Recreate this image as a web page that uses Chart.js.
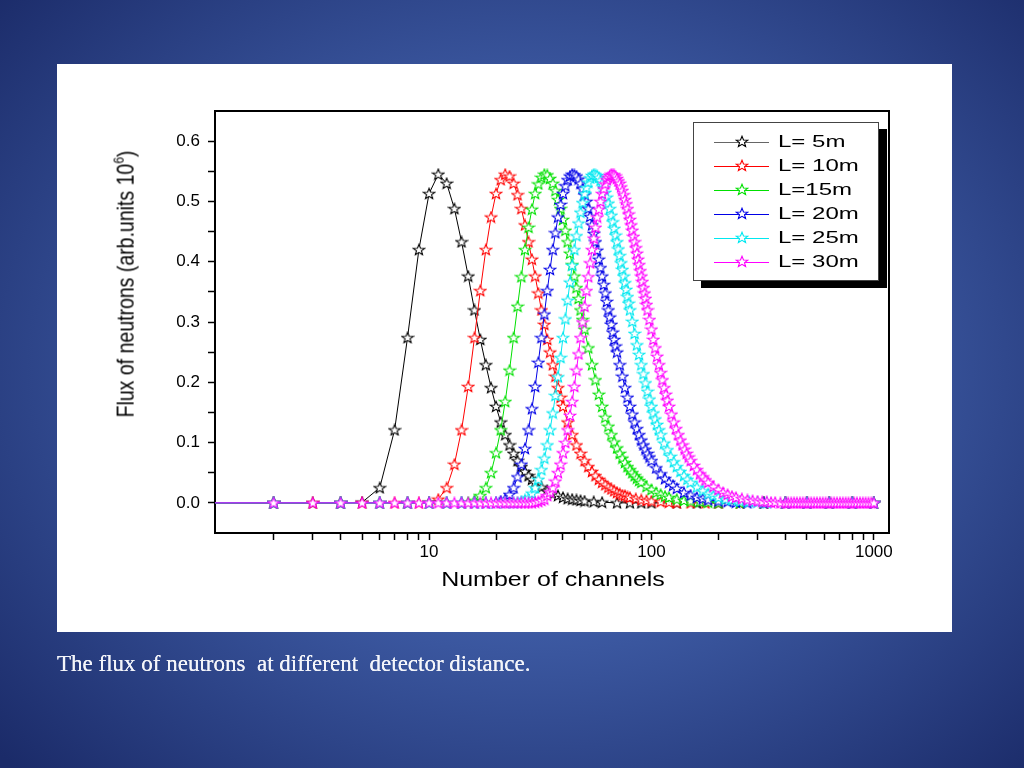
<!DOCTYPE html>
<html>
<head>
<meta charset="utf-8">
<script src="https://cdn.jsdelivr.net/npm/chart.js@4.4.1/dist/chart.umd.min.js"></script>
<style>
  html, body { margin: 0; padding: 0; }
  body {
    width: 1024px; height: 768px; overflow: hidden; position: relative;
    background: radial-gradient(ellipse 70% 75% at 52% 48%, #4f6eb5 0%, #3d5aa3 45%, #1b2b69 100%);
    font-family: "Liberation Sans", Arial, sans-serif;
  }
  #panel { position: absolute; left: 57px; top: 64px; width: 895px; height: 568px; background: #fff; }
  #chart { position: absolute; left: 0; top: 0; }
  #ytitle {
    position: absolute; left: 125px; top: 284px; white-space: nowrap;
    font-size: 19.5px; line-height: 20px; color: #000;
    transform: translate(-50%, -50%) rotate(-90deg) scaleY(1.2);
  }
  #ytitle sup { font-size: 12px; vertical-align: 8px; line-height: 0; }
  #xtitle {
    position: absolute; left: 553px; top: 569px; white-space: nowrap;
    font-size: 20px; line-height: 20px; color: #000;
    transform: translateX(-50%) scaleX(1.25);
  }
  #legend {
    position: absolute; left: 693px; top: 122px; width: 184px; height: 157px;
    background: #fff; border: 1.5px solid #444; box-shadow: 8px 7px 0 #000;
  }
  .row { position: absolute; left: 0; width: 100%; height: 24px; }
  .ln { position: absolute; left: 20px; width: 55px; top: 12px; height: 0; border-top: 1px solid; }
  .row img { position: absolute; left: 41px; top: 5px; }
  .lt {
    position: absolute; left: 84px; top: 0; line-height: 24px; font-size: 16px; color: #000;
    white-space: pre; transform: scaleX(1.5); transform-origin: left center;
  }
  #caption {
    position: absolute; left: 57px; top: 652px; white-space: pre;
    font-family: "Liberation Serif", "DejaVu Serif", serif; font-size: 23px; line-height: 23px;
    color: #f4f5fa; text-shadow: 0 0 0.6px #fff;
  }
</style>
</head>
<body>
<div id="panel"></div>
<canvas id="chart" width="1024" height="768"></canvas>
<div id="ytitle">Flux of neutrons (arb.units 10<sup>6</sup>)</div>
<div id="xtitle">Number of channels</div>
<div id="legend"></div>
<div id="caption">The flux of neutrons  at different  detector distance.</div>
<script>
// ---- data ----
var seriesLabels = ['L= 5m', 'L= 10m', 'L=15m', 'L= 20m', 'L= 25m', 'L= 30m'];
var seriesColors = ['#000000', '#ff0000', '#00e000', '#0000e6', '#00e8f0', '#ff00ff'];

var ch5 = [1,2,3,4,5,6,7,8,9,10,11,12,13,14,15,16,17,18,19,20,21,22,23,24,25,26,27,28,29,30,
  32,34,36,38,40,42,44,46,48,50,55,60,70,80,90,100,130,160,200,250,320,400,500,630,800,1000];
var flux5 = [0,0,0,0,0.001,0.025,0.121,0.274,0.42,0.513,0.545,0.53,0.488,0.433,0.376,0.32,0.271,0.229,0.191,0.16,
  0.134,0.113,0.096,0.082,0.07,0.06,0.052,0.045,0.039,0.034,
  0.026,0.02,0.015,0.012,0.009,0.007,0.006,0.005,0.004,0.003,0.002,0.001,0,0,0,0,0,0,0,0,0,0,0,0,0,0];

var ch10 = [1,2,3,4,5,6,7,8,9,10,11,12,13,14,15,16,17,18,19,20,21,22,23,24,25,26,27,28,29,30,
  31,32,33,34,35,36,37,38,39,40,42,44,46,48,50,52,54,56,58,60,62,64,66,68,70,72,74,76,78,80,
  85,90,95,100,110,120,130,150,175,200,250,320,400,500,630,800,1000];
var flux10 = [0,0,0,0,0,0,0,0,0,0.001,
  0.006,0.025,0.064,0.121,0.193,0.274,0.352,0.42,0.474,0.513,
  0.536,0.545,0.542,0.53,0.511,0.488,0.461,0.433,0.404,0.376,
  0.348,0.32,0.296,0.271,0.25,0.229,0.21,0.191,0.175,0.16,
  0.134,0.113,0.096,0.082,0.07,0.06,0.052,0.045,0.039,0.034,
  0.03,0.026,0.023,0.02,0.017,0.015,0.013,0.012,0.01,0.009,
  0.007,0.005,0.004,0.003,0.002,0.001,0,0,0,0,0,0,0,0,0,0,0];

var ch15 = [1,2,4,6,8,10,12,14,15,16,17,18,19,20,21,22,23,24,25,26,27,28,29,30,31,32,33,34,35,36,
  37,38,39,40,41,42,43,44,45,46,47,48,49,50,52,54,56,58,60,62,64,66,68,70,72,74,76,78,80,82,84,86,88,90,
  95,100,105,110,115,120,130,140,150,165,180,200,250,320,400,500,630,800,1000];
var flux15 = [0,0,0,0,0,0,0,0,
  0.001,0.004,0.012,0.025,0.05,0.083,0.121,0.168,0.22,0.274,0.326,0.375,0.42,0.457,0.487,0.513,0.529,0.54,
  0.545,0.544,0.538,0.53,0.518,0.503,0.488,0.47,0.452,0.433,0.414,0.395,0.376,0.357,0.339,0.32,0.304,0.288,
  0.257,0.229,0.204,0.18,0.16,0.142,0.127,0.113,0.101,0.091,0.082,0.074,0.067,0.06,0.055,0.05,0.045,0.041,0.037,0.034,
  0.027,0.022,0.017,0.014,0.011,0.009,0.006,0.004,0.003,0.002,0.001,0,0,0,0,0,0,0,0];

var ch20 = [1,2,4,6,8,10,12,14,16,18,20,
  21,22,23,24,25,26,27,28,29,30,31,32,33,34,35,36,37,38,39,40,41,42,43,44,45,46,47,48,49,50,
  51,52,53,54,55,56,57,58,59,60,61,62,63,64,65,66,67,68,69,70,
  72,74,76,78,80,82,84,86,88,90,92,94,96,98,100,
  105,110,115,120,125,130,140,150,160,170,180,200,220,240,270,320,400,500,630,800,1000];
var flux20 = [0,0,0,0,0,0,0,0,0,0,0.001,
  0.003,0.006,0.014,0.025,0.043,0.064,0.09,0.121,0.156,0.193,
  0.233,0.274,0.313,0.352,0.387,0.42,0.448,0.474,0.495,0.513,
  0.526,0.536,0.542,0.545,0.544,0.542,0.537,0.53,0.521,0.511,
  0.5,0.488,0.475,0.461,0.447,0.433,0.419,0.404,0.39,0.376,
  0.362,0.348,0.334,0.32,0.308,0.296,0.283,0.271,0.26,0.25,
  0.229,0.21,0.191,0.175,0.16,0.147,0.134,0.123,0.113,0.104,0.096,0.089,0.082,0.076,0.07,
  0.058,0.048,0.04,0.034,0.029,0.024,0.017,0.013,0.009,0.007,0.005,0.003,0.002,0.001,0,0,0,0,0,0,0];

var ch25 = [1,2,4,6,8,10,12,14,16,18,20,22,24,
  25,26,27,28,29,30,31,32,33,34,35,36,37,38,39,40,41,42,43,44,45,46,47,48,49,50,51,52,53,54,
  55,56,57,58,59,60,61,62,63,64,65,66,67,68,69,70,71,72,73,74,75,76,77,78,79,80,
  82,84,86,88,90,92,94,96,98,100,102,104,106,108,110,114,118,122,126,130,135,140,145,150,
  160,170,180,190,200,215,230,250,275,300,330,400,500,630,800,1000];
var flux25 = [0,0,0,0,0,0,0,0,0,0,0,0,0,
  0.001,0.003,0.005,0.008,0.016,0.025,0.039,0.055,0.074,0.096,
  0.121,0.149,0.178,0.209,0.241,0.274,0.305,0.336,0.366,0.394,
  0.42,0.443,0.464,0.482,0.498,0.513,0.523,0.532,0.539,0.543,
  0.545,0.544,0.543,0.54,0.535,0.53,0.523,0.515,0.507,0.497,
  0.488,0.477,0.466,0.455,0.444,0.433,0.421,0.41,0.398,0.387,
  0.376,0.365,0.354,0.342,0.331,0.32,
  0.301,0.281,0.262,0.246,0.229,0.214,0.199,0.185,0.172,0.16,0.149,0.139,0.13,0.121,0.113,
  0.099,0.088,0.077,0.068,0.06,0.052,0.045,0.039,0.034,
  0.026,0.02,0.015,0.012,0.009,0.006,0.005,0.003,0.002,0.001,0,0,0,0,0,0];

var ch30 = [1,2,3,4,5,6,7,8,9,10,11,12,13,14,15,16,17,18,19,20,21,22,23,24,25,26,27,28,29,30,
  31,32,33,34,35,36,37,38,39,40,41,42,43,44,45,46,47,48,49,50,51,52,53,54,55,56,57,58,59,60,
  61,62,63,64,65,66,67,68,69,70,71,72,73,74,75,76,77,78,79,80,81,82,83,84,85,86,87,88,89,90,
  91,92,93,94,95,96,98,100,102,104,106,108,110,112,114,116,118,120,
  123,126,129,132,135,138,141,144,147,150,155,160,165,170,175,180,190,200,210,220,230,240,
  255,270,285,300,315,330,345,360,380,400,412,425,438,451,465,479,493,508,523,539,555,572,589,607,
  625,644,663,683,704,725,747,769,792,816,840,866,892,918,946,974,1000];
var flux30 = [0,0,0,0,0,0,0,0,0,0,0,0,0,0,0,0,0,0,0,0,0,0,0,0,0,0,0,0,0,0.001,
  0.002,0.004,0.006,0.012,0.018,0.025,0.036,0.05,0.064,0.083,
  0.1,0.121,0.145,0.168,0.193,0.22,0.247,0.274,0.3,0.326,
  0.352,0.375,0.398,0.42,0.439,0.457,0.474,0.487,0.5,0.513,
  0.521,0.529,0.536,0.54,0.543,0.545,0.544,0.544,0.542,0.538,
  0.534,0.53,0.524,0.518,0.511,0.503,0.496,0.488,0.479,0.47,
  0.461,0.452,0.442,0.433,0.423,0.414,0.404,0.395,0.385,0.376,
  0.367,0.357,0.348,0.339,0.329,0.32,
  0.304,0.288,0.271,0.257,0.243,0.229,0.216,0.204,0.191,0.18,0.17,0.16,
  0.147,0.134,0.123,0.113,0.104,0.096,0.089,0.082,0.076,0.07,
  0.062,0.055,0.048,0.043,0.038,0.034,0.027,0.022,0.017,0.014,0.011,0.009,
  0.007,0.005,0.004,0.003,0.002,0.002,0.001,0.001,0,0,0,0,0,0,0,0,0,0,0,0,0,0,0,0,
  0,0,0,0,0,0,0,0,0,0,0,0,0,0,0,0,0];

var xTickValues = [2,3,4,5,6,7,8,9,10,20,30,40,50,60,70,80,90,100,200,300,400,500,600,700,800,900,1000];
var xLabelValues = [10, 100, 1000];
var yTickValues = [0,0.05,0.1,0.15,0.2,0.25,0.3,0.35,0.4,0.45,0.5,0.55,0.6];

var channels = [ch5, ch10, ch15, ch20, ch25, ch30];
var fluxes = [flux5, flux10, flux15, flux20, flux25, flux30];

// open star marker
function makeStar(color) {
    var c = document.createElement('canvas');
    c.width = 14; c.height = 13;
    var g = c.getContext('2d');
    g.translate(7, 6.9);
    g.scale(1.08, 1);
    g.beginPath();
    for (var i = 0; i < 10; i++) {
        var r = (i % 2 === 0) ? 5.7 : 2.4;
        var a = -Math.PI / 2 + i * Math.PI / 5;
        if (i === 0) g.moveTo(r * Math.cos(a), r * Math.sin(a));
        else g.lineTo(r * Math.cos(a), r * Math.sin(a));
    }
    g.closePath();
    g.fillStyle = '#fff';
    g.fill();
    g.lineWidth = 1;
    g.strokeStyle = color;
    g.stroke();
    return c;
}

var stars = seriesColors.map(makeStar);

var datasets = [];
for (var k = 0; k < seriesLabels.length; k++) {
    var pts = channels[k].map(function (x, i) { return {x: x, y: fluxes[k][i]}; });
    datasets.push({
        label: seriesLabels[k],
        data: pts,
        borderColor: seriesColors[k],
        backgroundColor: seriesColors[k],
        borderWidth: 1,
        pointStyle: stars[k],
        pointRadius: 6,
        pointHoverRadius: 6,
        fill: false,
        tension: 0,
        order: seriesLabels.length - k
    });
}

// legend box
var legend = document.getElementById('legend');
seriesLabels.forEach(function (lab, i) {
    var row = document.createElement('div');
    row.className = 'row';
    row.style.top = (7 + i * 24) + 'px';
    var ln = document.createElement('span');
    ln.className = 'ln';
    ln.style.borderTopColor = i === 0 ? '#666' : seriesColors[i];
    var img = document.createElement('img');
    img.src = stars[i].toDataURL();
    var lt = document.createElement('span');
    lt.className = 'lt';
    lt.textContent = lab;
    row.appendChild(ln);
    row.appendChild(img);
    row.appendChild(lt);
    legend.appendChild(row);
});

var tickFont = {family: '"Liberation Sans", Arial, sans-serif', size: 17};

var ctx = document.getElementById('chart').getContext('2d');
var chart = new Chart(ctx, {
    type: 'line',
    data: {datasets: datasets},
    options: {
        responsive: false,
        animation: false,
        layout: {padding: {left: 155, right: 135, top: 111, bottom: 195}},
        plugins: {
            legend: {display: false},
            tooltip: {enabled: false}
        },
        scales: {
            x: {
                type: 'logarithmic',
                position: 'bottom',
                min: 1.09,
                max: 1170,
                afterBuildTicks: function (s) {
                    s.ticks = xTickValues.map(function (v) { return {value: v}; });
                },
                afterFit: function (s) { s.height = 40; },
                ticks: {
                    autoSkip: false,
                    maxRotation: 0,
                    color: '#000',
                    font: tickFont,
                    padding: 2,
                    callback: function (v) {
                        return xLabelValues.indexOf(v) >= 0 ? String(v) : '';
                    }
                },
                grid: {display: true, drawOnChartArea: false, drawTicks: true, tickLength: 7, tickColor: '#000', tickWidth: 1.5},
                border: {display: true, color: '#000', width: 2}
            },
            x2: {
                type: 'linear',
                position: 'top',
                min: 0,
                max: 1,
                afterFit: function (s) { s.height = 0; },
                ticks: {display: false},
                grid: {display: false, drawTicks: false},
                border: {display: true, color: '#000', width: 2}
            },
            y: {
                type: 'linear',
                position: 'left',
                min: -0.05,
                max: 0.65,
                afterBuildTicks: function (s) {
                    s.ticks = yTickValues.map(function (v) { return {value: v}; });
                },
                afterFit: function (s) { s.width = 60; },
                ticks: {
                    autoSkip: false,
                    color: '#000',
                    font: tickFont,
                    padding: 8,
                    callback: function (v) {
                        return Math.round(v * 100) % 10 === 0 ? v.toFixed(1) : '';
                    }
                },
                grid: {display: true, drawOnChartArea: false, drawTicks: true, tickLength: 7, tickColor: '#000', tickWidth: 1.5},
                border: {display: true, color: '#000', width: 2}
            },
            y2: {
                type: 'linear',
                position: 'right',
                min: 0,
                max: 1,
                afterFit: function (s) { s.width = 0; },
                ticks: {display: false},
                grid: {display: false, drawTicks: false},
                border: {display: true, color: '#000', width: 2}
            }
        }
    }
});
</script>
</body>
</html>
